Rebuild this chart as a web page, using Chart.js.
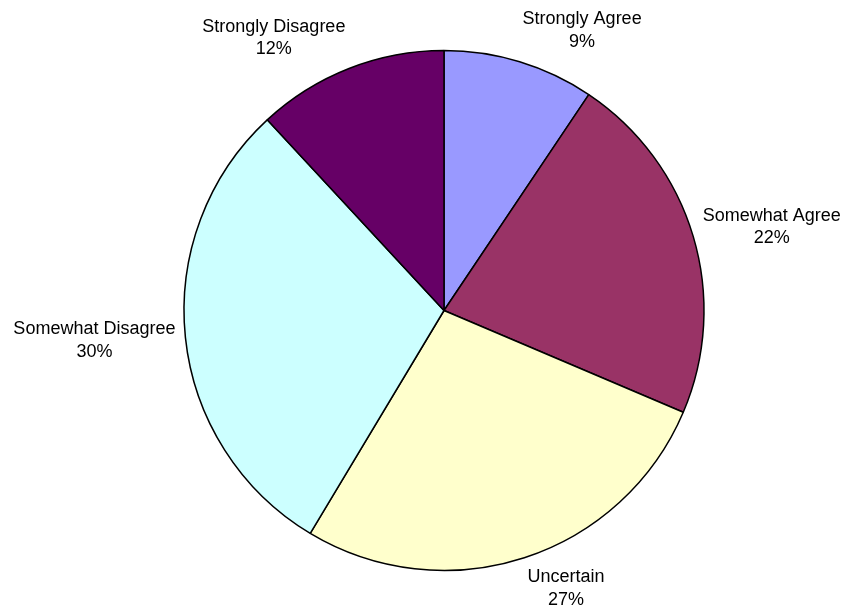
<!DOCTYPE html>
<html>
<head>
<meta charset="utf-8">
<script src="https://cdn.jsdelivr.net/npm/chart.js@4.4.1/dist/chart.umd.min.js"></script>
<style>
  html, body { margin: 0; padding: 0; background: #fff; }
  #wrap { width: 848px; height: 616px; }
</style>
</head>
<body>
<div id="wrap"><canvas id="pieChart" width="848" height="616"></canvas></div>
<script>
const categories = ['Strongly Agree', 'Somewhat Agree', 'Uncertain', 'Somewhat Disagree', 'Strongly Disagree'];
const values = [9.4, 22.0, 27.2, 29.5, 11.9];
const sliceColors = ['#9999FF', '#993366', '#FFFFCC', '#CCFFFF', '#660066'];

// labels outside the pie: name on first line, rounded percent below
const outsideLabels = {
    id: 'outsideLabels',
    afterDraw(chart) {
        const ctx = chart.ctx;
        const arcs = chart.getDatasetMeta(0).data;
        const total = values.reduce((a, b) => a + b, 0);
        const lineH = 22.5;
        ctx.save();
        ctx.font = '18px "Liberation Sans", Arial, sans-serif';
        ctx.fillStyle = '#000';
        ctx.textAlign = 'center';
        ctx.textBaseline = 'middle';
        arcs.forEach((arc, i) => {
            const mid = (arc.startAngle + arc.endAngle) / 2;
            const r = arc.outerRadius + 10;
            const ax = arc.x + Math.cos(mid) * r;
            const ay = arc.y + Math.sin(mid) * r;
            const lines = [categories[i], Math.round(values[i] / total * 100) + '%'];
            const w = Math.max(...lines.map(t => ctx.measureText(t).width));
            const h = lineH * lines.length;
            const cx = Math.cos(mid) >= 0 ? ax + w / 2 : ax - w / 2;
            const cy = ay + Math.sin(mid) * h / 2;
            lines.forEach((t, j) => {
                ctx.fillText(t, cx, cy - h / 2 + lineH * (j + 0.5));
            });
        });
        ctx.restore();
    }
};

const ctxPie = document.getElementById('pieChart').getContext('2d');
const myChart = new Chart(ctxPie, {
    type: 'pie',
    data: {
        labels: categories,
        datasets: [{
            data: values,
            backgroundColor: sliceColors,
            borderColor: '#000000',
            borderWidth: 1.5
        }]
    },
    options: {
        responsive: false,
        animation: false,
        radius: 260,
        layout: {
            padding: { left: 40, right: 0, top: 5, bottom: 0 }
        },
        plugins: {
            legend: { display: false },
            tooltip: { enabled: false }
        }
    },
    plugins: [outsideLabels]
});
</script>
</body>
</html>
